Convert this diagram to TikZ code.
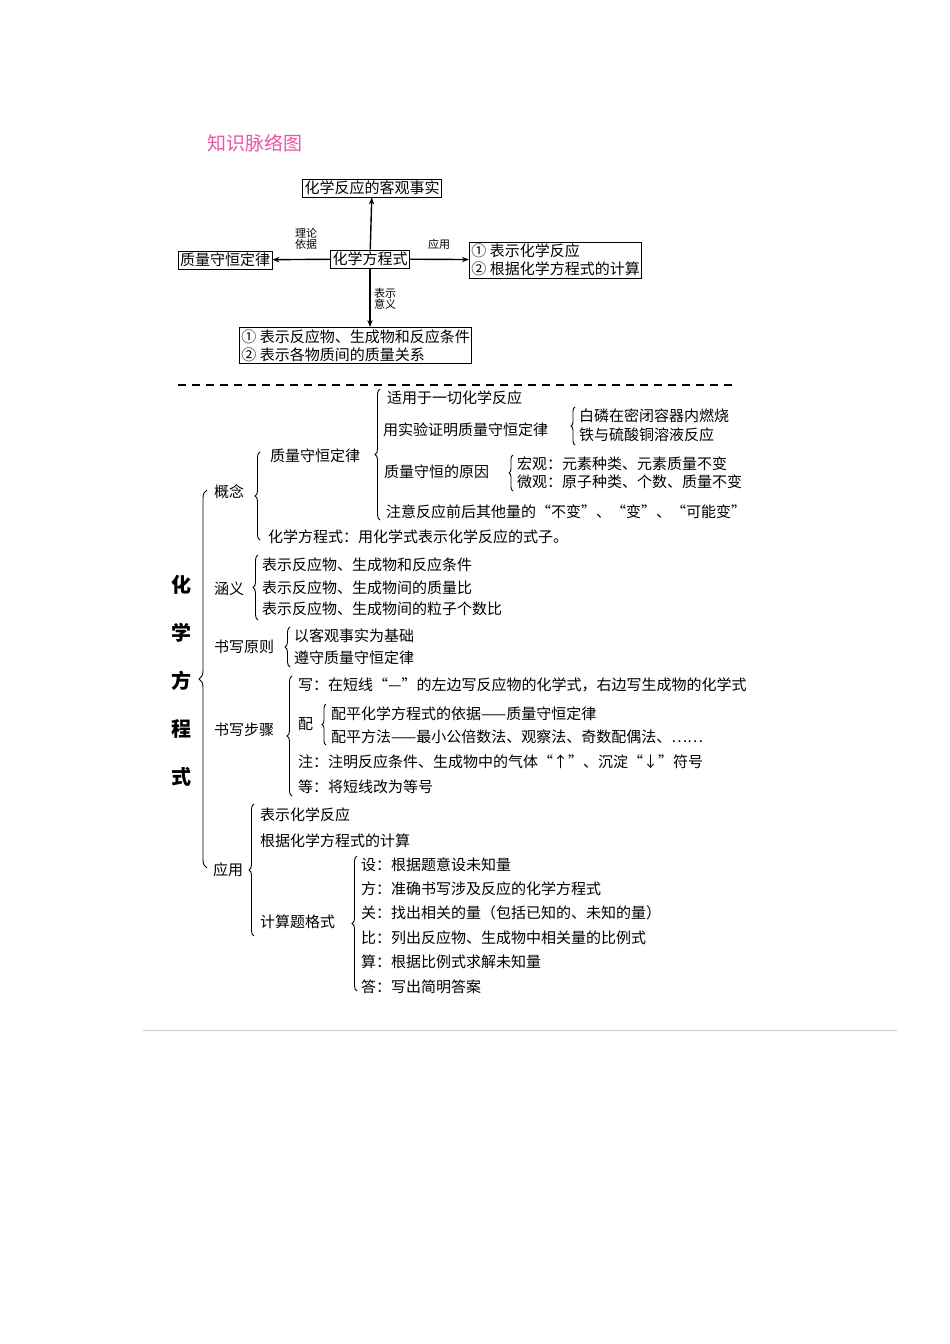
\documentclass[tikz,border=0pt]{standalone}
\usepackage{fontspec}
\newfontfamily\cjk{Noto Sans CJK SC}
\usetikzlibrary{decorations.pathreplacing,arrows.meta}
\begin{document}
\begin{tikzpicture}[x=1pt,y=-1pt,
  t/.style={anchor=west,inner sep=0pt,font=\cjk\fontsize{15}{15}\selectfont},
  bx/.style={draw,thick,inner sep=2pt,font=\cjk\fontsize{15}{18}\selectfont,align=left},
  sm/.style={inner sep=0pt,font=\cjk\fontsize{11}{11}\selectfont,align=center},
  ar/.style={-{Stealth[length=7pt]},line width=1.4pt},
  br/.style={decorate,decoration={brace,amplitude=5pt},line width=0.9pt}]
\useasboundingbox (0,0) rectangle (950,1344);
\node[anchor=west,inner sep=0,text=magenta!80!purple!70,font=\cjk\fontsize{19}{19}\selectfont] (title) at (207,143) {知识脉络图};
\node[bx] (fact) at (372,188) {化学反应的客观事实};
\node[bx] (eq) at (370,259) {化学方程式};
\node[bx] (law) at (225,260) {质量守恒定律};
\node[bx,anchor=west] (app) at (469,260) {① 表示化学反应\\② 根据化学方程式的计算};
\node[bx,anchor=north west] (mean) at (239,327) {① 表示反应物、生成物和反应条件\\② 表示各物质间的质量关系};
\draw[ar] (eq) -- (fact);
\draw[ar] (eq) -- (law);
\draw[ar] (eq) -- (app);
\draw[ar] (eq.south) -- (eq.south|-mean.north);
\node[sm] (l1) at (306,239) {理论\\依据};
\node[sm] (l2) at (439,244) {应用};
\node[sm] (l3) at (385,299) {表示\\意义};
\draw[dashed,line width=1.3pt,dash pattern=on 8pt off 6pt] (178,385) -- (737,385);
% vertical title
\node[inner sep=0,font=\cjk\bfseries\fontsize{20}{48}\selectfont,align=center] (vt) at (181,681) {化\\学\\方\\程\\式};
\draw[br,decoration={amplitude=8pt}] (207,868) -- (207,490);
% 概念
\node[t] (gn) at (214,492) {概念};
\draw[br] (260,540) -- (260,452);
\node[t] (zl) at (270,456) {质量守恒定律};
\node[t] (hx) at (268,537) {化学方程式：用化学式表示化学反应的式子。};
\draw[br] (380,520) -- (380,389);
\node[t] (s1) at (387,398) {适用于一切化学反应};
\node[t] (s2) at (383,430) {用实验证明质量守恒定律};
\draw[br,decoration={amplitude=4pt}] (575,445) -- (575,407);
\node[t] (s21) at (579,416) {白磷在密闭容器内燃烧};
\node[t] (s22) at (579,435) {铁与硫酸铜溶液反应};
\node[t] (s3) at (384,472) {质量守恒的原因};
\draw[br,decoration={amplitude=4pt}] (513,491) -- (513,455);
\node[t] (s31) at (517,464) {宏观：元素种类、元素质量不变};
\node[t] (s32) at (517,482) {微观：原子种类、个数、质量不变};
\node[t] (s4) at (386,512) {注意反应前后其他量的“不变”、“变”、“可能变”};
% 涵义
\node[t] (hy) at (214,589) {涵义};
\draw[br] (258,620) -- (258,555);
\node[t] (h1) at (262,565) {表示反应物、生成物和反应条件};
\node[t] (h2) at (262,588) {表示反应物、生成物间的质量比};
\node[t] (h3) at (262,609) {表示反应物、生成物间的粒子个数比};
% 书写原则
\node[t] (yz) at (214,647) {书写原则};
\draw[br] (290,667) -- (290,627);
\node[t] (y1) at (294,636) {以客观事实为基础};
\node[t] (y2) at (294,658) {遵守质量守恒定律};
% 书写步骤
\node[t] (bz) at (214,730) {书写步骤};
\draw[br] (292,796) -- (292,676);
\node[t] (b1) at (298,685) {写：在短线“—”的左边写反应物的化学式，右边写生成物的化学式};
\node[t] (b2) at (298,724) {配};
\draw[br,decoration={amplitude=4pt}] (326,745) -- (326,704);
\node[t] (b21) at (331,714) {配平化学方程式的依据——质量守恒定律};
\node[t] (b22) at (331,737) {配平方法——最小公倍数法、观察法、奇数配偶法、……};
\node[t] (b3) at (298,762) {注：注明反应条件、生成物中的气体“↑”、沉淀“↓”符号};
\node[t] (b4) at (298,787) {等：将短线改为等号};
% 应用
\node[t] (yy) at (213,870) {应用};
\draw[br] (254,936) -- (254,804);
\node[t] (a1) at (260,815) {表示化学反应};
\node[t] (a2) at (260,841) {根据化学方程式的计算};
\node[t] (a3) at (260,922) {计算题格式};
\draw[br] (357,991) -- (357,856);
\node[t] (c1) at (361,865) {设：根据题意设未知量};
\node[t] (c2) at (361,889) {方：准确书写涉及反应的化学方程式};
\node[t] (c3) at (361,913) {关：找出相关的量（包括已知的、未知的量）};
\node[t] (c4) at (361,938) {比：列出反应物、生成物中相关量的比例式};
\node[t] (c5) at (361,962) {算：根据比例式求解未知量};
\node[t] (c6) at (361,987) {答：写出简明答案};
\draw[gray!40,line width=0.8pt] (143,1030) -- (897,1030);
\end{tikzpicture}
\end{document}
